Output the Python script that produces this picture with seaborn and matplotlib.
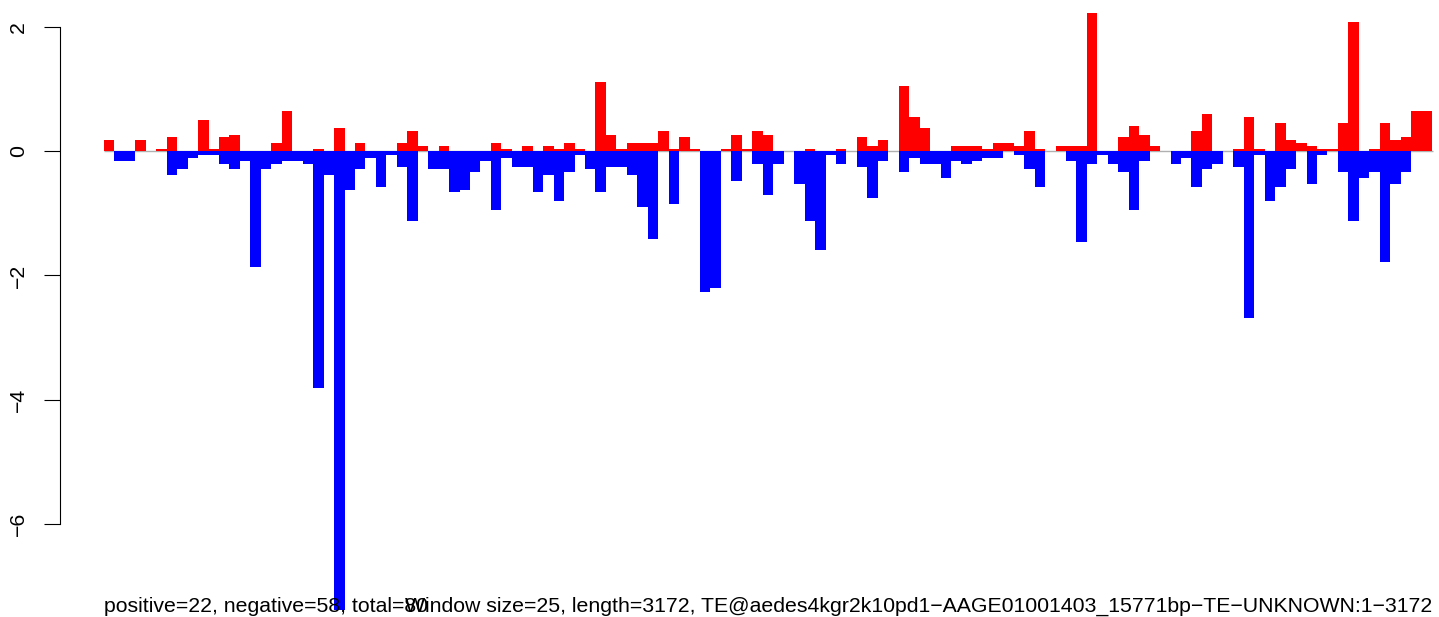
import pandas as pd
import seaborn as sns
import numpy as np
import matplotlib.pyplot as plt

# window scores (127 windows of 25 bp)
pos = [0.18, 0, 0, 0.18, 0, 0.03, 0.23, 0, 0, 0.5,
       0.03, 0.23, 0.27, 0, 0, 0, 0.13, 0.65, 0, 0,
       0.03, 0, 0.37, 0, 0.13, 0, 0, 0, 0.13, 0.32,
       0.08, 0, 0.08, 0, 0, 0, 0, 0.13, 0.03, 0,
       0.08, 0, 0.08, 0.03, 0.13, 0.03, 0, 1.11, 0.27, 0.03,
       0.13, 0.13, 0.13, 0.32, 0.03, 0.23, 0.03, 0, 0, 0.03,
       0.27, 0.03, 0.32, 0.27, 0, 0, 0, 0.03, 0, 0,
       0.03, 0, 0.23, 0.08, 0.18, 0, 1.06, 0.55, 0.37, 0,
       0, 0.08, 0.08, 0.08, 0.03, 0.13, 0.13, 0.08, 0.32, 0.03,
       0, 0.08, 0.08, 0.08, 2.23, 0, 0, 0.23, 0.4, 0.27,
       0.08, 0, 0, 0, 0.32, 0.6, 0, 0, 0.03, 0.55,
       0.03, 0, 0.45, 0.18, 0.13, 0.08, 0.03, 0.03, 0.45, 2.08,
       0, 0.03, 0.45, 0.18, 0.23, 0.65, 0.65]

neg = [0, -0.16, -0.16, 0, 0, 0, -0.38, -0.28, -0.11, -0.06,
       -0.06, -0.2, -0.28, -0.16, -1.87, -0.28, -0.2, -0.16, -0.16, -0.2,
       -3.82, -0.38, -7.39, -0.62, -0.28, -0.11, -0.58, -0.06, -0.25, -1.12,
       0, -0.28, -0.28, -0.66, -0.62, -0.33, -0.16, -0.95, -0.11, -0.25,
       -0.25, -0.66, -0.38, -0.8, -0.33, -0.06, -0.28, -0.66, -0.25, -0.25,
       -0.38, -0.9, -1.41, 0, -0.85, 0, 0, -2.27, -2.21, 0,
       -0.48, 0, -0.2, -0.7, -0.2, 0, -0.53, -1.12, -1.59, -0.06,
       -0.2, 0, -0.25, -0.75, -0.16, 0, -0.33, -0.11, -0.2, -0.2,
       -0.43, -0.16, -0.2, -0.16, -0.11, -0.11, 0, -0.06, -0.28, -0.58,
       0, 0, -0.16, -1.46, -0.2, -0.06, -0.2, -0.33, -0.95, -0.16,
       0, 0, -0.2, -0.11, -0.58, -0.28, -0.2, 0, -0.25, -2.69,
       -0.06, -0.8, -0.58, -0.28, 0, -0.53, -0.06, 0, -0.33, -1.12,
       -0.43, -0.33, -1.78, -0.53, -0.33, 0, 0]

yticks = [-6, -4, -2, 0, 2]
left_note = "positive=22, negative=58, total=80"
right_note = ("Window size=25, length=3172, "
              "TE@aedes4kgr2k10pd1\u2212AAGE01001403_15771bp\u2212TE\u2212UNKNOWN:1\u22123172")

df = pd.DataFrame({'window': np.arange(len(pos)), 'pos': pos, 'neg': neg})

sns.set_style("white")
plt.rcParams['font.family'] = ['Liberation Sans', 'DejaVu Sans']
plt.rcParams['text.color'] = 'black'
plt.rcParams['ytick.color'] = 'black'

W, H = 1439, 617
fig = plt.figure(figsize=(W / 100, H / 100), dpi=100)
ax = fig.add_axes([60 / W, 0, 1 - 60 / W, 1])

# zero line only under the bars
ax.hlines(0, -0.5, len(pos) - 0.45, color='#b0b0b0', lw=1.0, zorder=0.5)
sns.barplot(data=df, x='window', y='pos', color='#ff0000', saturation=1,
            width=1, linewidth=0, errorbar=None, ax=ax)
sns.barplot(data=df, x='window', y='neg', color='#0000ff', saturation=1,
            width=1, linewidth=0, errorbar=None, ax=ax)
for p in ax.patches:
    p.set_antialiased(False)

# pixel mapping: bars from x=104 to 1432, ~10.457 px each; y zero at 151.3, 62.05 px/unit
pxw = (1432 - 104) / len(pos)
ax.set_xlim(-0.5 - (104 - 60) / pxw, -0.5 + (W - 104) / pxw)
ax.set_ylim(-(H - 151.3) / 62.05, 151.3 / 62.05)

ax.set_xlabel('')
ax.set_ylabel('')
ax.set_xticks([])
ax.set_yticks(yticks)
ax.set_yticklabels([f"{t}".replace('-', '\u2212') for t in yticks],
                   rotation=90, va='center', fontsize=15.3, color='black')
ax.tick_params(axis='y', left=True, length=11.2, width=0.8, pad=12, color='black')
for s in ['top', 'right', 'bottom']:
    ax.spines[s].set_visible(False)
ax.spines['left'].set_bounds(-6, 2)
ax.spines['left'].set_linewidth(0.8)
ax.spines['left'].set_color('black')
ax.patch.set_alpha(0)

fig.text(104 / W, 1 - 612 / H, left_note, ha='left', va='baseline', fontsize=15.3, color='black')
fig.text(1432 / W, 1 - 612 / H, right_note, ha='right', va='baseline', fontsize=15.3, color='black')

fig.savefig('out.png', dpi=100)
